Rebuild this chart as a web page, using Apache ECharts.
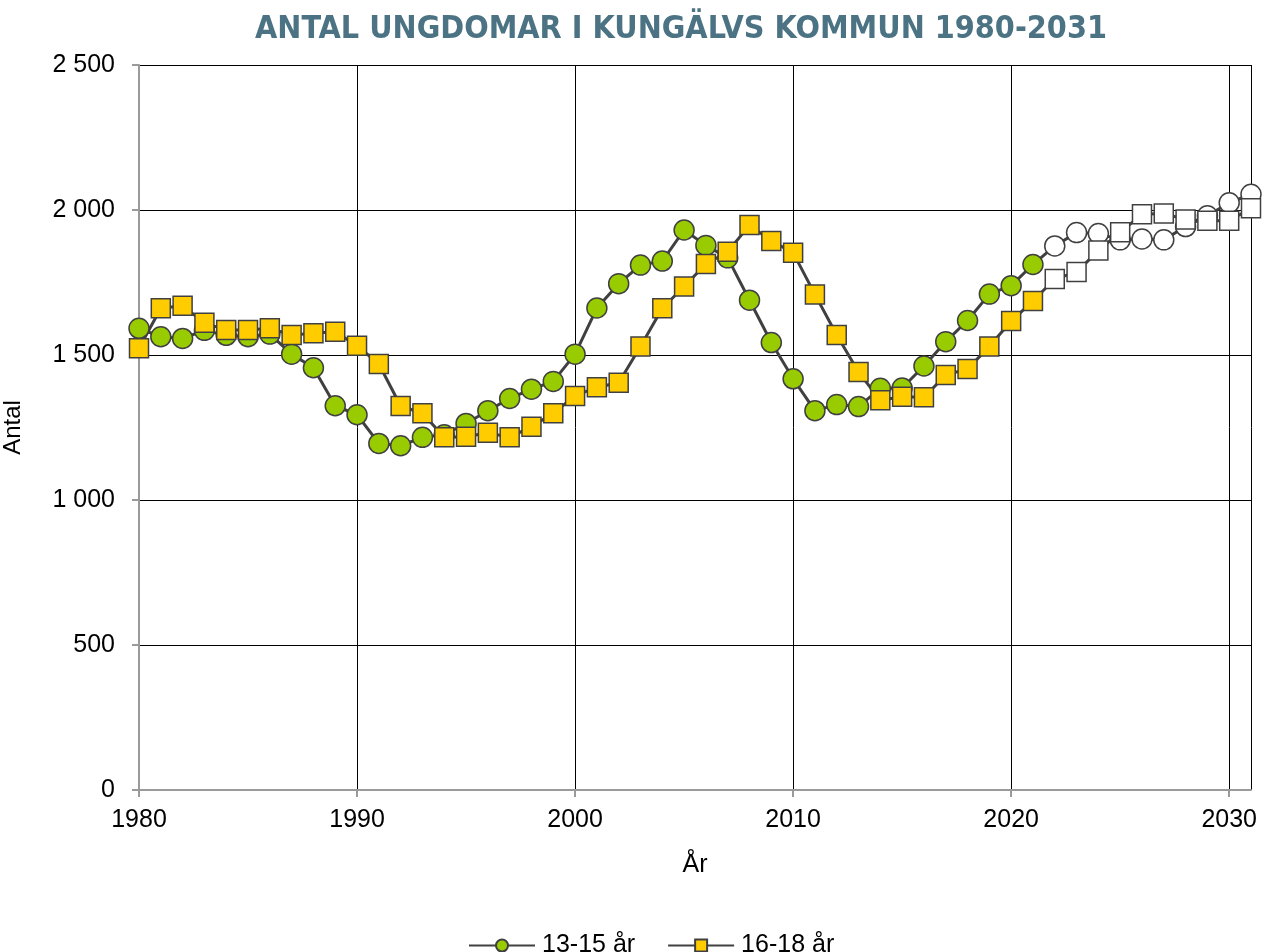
<!DOCTYPE html>
<html>
<head>
<meta charset="utf-8">
<script src="https://cdn.jsdelivr.net/npm/echarts@6/dist/echarts.min.js"></script>
<style>
  html, body { margin: 0; padding: 0; background: #fff; }
  #chart { width: 1264px; height: 952px; }
</style>
</head>
<body>
<div id="chart"></div>
<script>
// år 1980-2031
const years = [1980, 1981, 1982, 1983, 1984, 1985, 1986, 1987, 1988, 1989,
  1990, 1991, 1992, 1993, 1994, 1995, 1996, 1997, 1998, 1999,
  2000, 2001, 2002, 2003, 2004, 2005, 2006, 2007, 2008, 2009,
  2010, 2011, 2012, 2013, 2014, 2015, 2016, 2017, 2018, 2019,
  2020, 2021, 2022, 2023, 2024, 2025, 2026, 2027, 2028, 2029,
  2030, 2031]

// 13-15 år
const age1315 = [1592, 1563, 1557, 1585, 1568, 1563, 1572, 1503, 1456, 1325,
  1294, 1195, 1187, 1216, 1225, 1264, 1308, 1350, 1382, 1409,
  1503, 1662, 1746, 1810, 1824, 1931, 1878, 1835, 1689, 1543,
  1418, 1308, 1329, 1322, 1385, 1386, 1462, 1546, 1619, 1710,
  1739, 1812, 1876, 1922, 1919, 1897, 1900, 1897, 1943, 1980,
  2025, 2054]

// 16-18 år
const age1618 = [1523, 1661, 1670, 1611, 1586, 1586, 1592, 1569, 1575, 1580,
  1532, 1469, 1324, 1299, 1216, 1218, 1232, 1216, 1253, 1299,
  1359, 1389, 1404, 1529, 1661, 1736, 1814, 1856, 1948, 1893,
  1853, 1709, 1569, 1441, 1344, 1356, 1354, 1431, 1452, 1529,
  1617, 1686, 1762, 1786, 1860, 1923, 1985, 1988, 1967, 1963,
  1963, 2006]

// prognos från och med detta år (vita markörer)
const forecastFrom = 2022

const font = 'Liberation Sans'
const lineColor = '#404040'

const toData = (values) => values.map((v, i) => {
  const point = { value: [years[i], v] }
  if (years[i] >= forecastFrom) point.itemStyle = { color: '#ffffff' }
  return point
})

const chart = echarts.init(document.getElementById('chart'))

const option = {
  animation: false,
  title: {
    text: 'ANTAL UNGDOMAR I KUNGÄLVS KOMMUN 1980-2031',
    left: 676,
    textAlign: 'center',
    top: 9,
    textStyle: {
      fontFamily: '"DejaVu Sans Condensed", "Liberation Sans"',
      fontWeight: 'bold',
      fontSize: 32,
      color: '#4b7383'
    }
  },
  legend: {
    data: ['13-15 år', '16-18 år'],
    top: 928,
    left: 463,
    itemWidth: 66,
    itemHeight: 15,
    itemGap: 32,
    textStyle: { fontFamily: font, fontSize: 25, color: '#000', padding: [0, 0, 0, 2] }
  },
  grid: {
    left: 139,
    right: 13,
    top: 65,
    bottom: 162,
    containLabel: false,
    outerBoundsMode: 'none'
  },
  xAxis: {
    type: 'value',
    min: 1980,
    max: 2031,
    interval: 10,
    name: 'År',
    nameLocation: 'middle',
    nameGap: 63,
    nameTextStyle: { fontFamily: font, fontSize: 25, color: '#000' },
    axisLine: { show: true, lineStyle: { color: '#9a9a9a', width: 2 } },
    axisTick: { show: true, length: 7, lineStyle: { color: '#9a9a9a', width: 2 } },
    axisLabel: {
      fontFamily: font, fontSize: 25, color: '#000', margin: 18,
      showMaxLabel: false,
      formatter: v => (v % 10 === 0 ? String(v) : '')
    },
    splitLine: { show: true, lineStyle: { color: '#000', width: 1 } }
  },
  yAxis: {
    type: 'value',
    min: 0,
    max: 2500,
    interval: 500,
    name: 'Antal',
    nameLocation: 'middle',
    nameGap: 114,
    nameRotate: 90,
    nameTextStyle: { fontFamily: font, fontSize: 24, color: '#000' },
    axisLine: { show: true, lineStyle: { color: '#9a9a9a', width: 2 } },
    axisTick: { show: true, length: 7, lineStyle: { color: '#9a9a9a', width: 2 } },
    axisLabel: {
      fontFamily: font, fontSize: 25, color: '#000', margin: 24,
      formatter: v => String(v).replace(/\B(?=(\d{3})+(?!\d))/g, ' ')
    },
    splitLine: { show: true, lineStyle: { color: '#000', width: 1 } }
  },
  series: [
    {
      name: '13-15 år',
      type: 'line',
      data: toData(age1315),
      symbol: 'circle',
      symbolSize: 20,
      showAllSymbol: true,
      lineStyle: { color: lineColor, width: 3 },
      itemStyle: { color: '#99cc00', borderColor: lineColor, borderWidth: 1.5 },
      emphasis: { disabled: true }
    },
    {
      name: '16-18 år',
      type: 'line',
      data: toData(age1618),
      symbol: 'rect',
      symbolSize: 19,
      showAllSymbol: true,
      lineStyle: { color: lineColor, width: 3 },
      itemStyle: { color: '#ffcc00', borderColor: lineColor, borderWidth: 1.5 },
      emphasis: { disabled: true }
    }
  ]
}

chart.setOption(option)
</script>
</body>
</html>
